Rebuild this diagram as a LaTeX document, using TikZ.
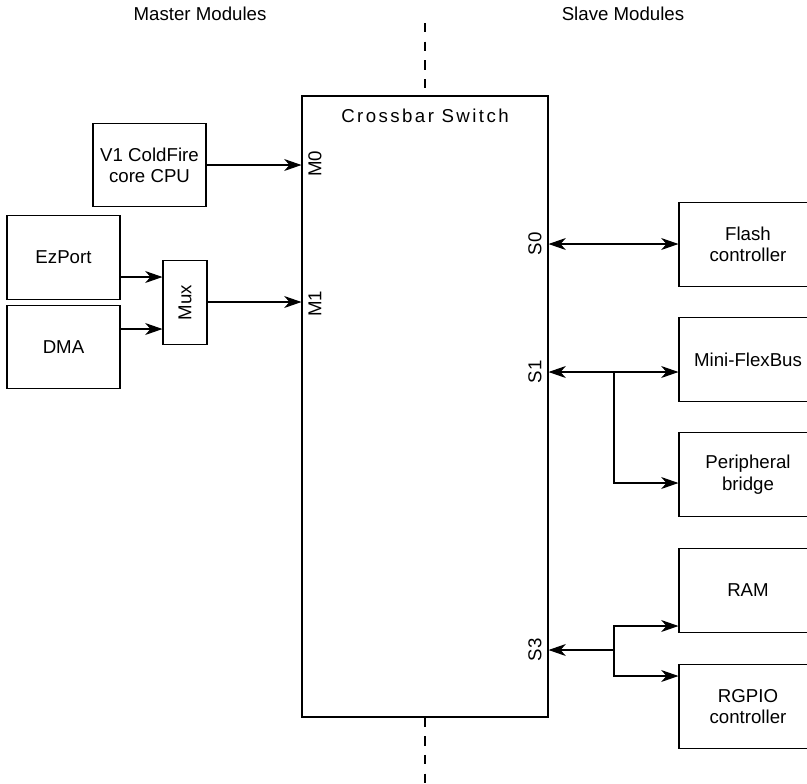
\documentclass[tikz,border=0pt]{standalone}
\usepackage{fontspec}
\setmainfont{Liberation Sans}
\usetikzlibrary{arrows.meta}
\begin{document}
\begin{tikzpicture}[x=0.75pt,y=-0.75pt,
  font=\fontsize{14pt}{16pt}\selectfont,
  line width=0.8pt,
  box/.style={draw,align=center,inner sep=0pt,minimum height=62.5pt},
  arr/.style={-{Stealth[length=13pt,width=9pt,inset=4pt]}},
  darr/.style={{Stealth[length=13pt,width=9pt,inset=4pt]}-{Stealth[length=13pt,width=9pt,inset=4pt]}},
  port/.style={rotate=90,inner sep=0pt},
  divider/.style={dash pattern=on 7pt off 7pt}]
\useasboundingbox (0,0) rectangle (807,783);
\node (mhead) at (200,14) {Master Modules};
\node (shead) at (623,14) {Slave Modules};
\node[draw,minimum width=184.5pt,minimum height=465.75pt] (xbar) at (425,406.5) {};
\node (xtitle) at (425,116) {\addfontfeature{LetterSpace=13}Crossbar Switch};
\coordinate (dtop) at (425,23);
\coordinate (dbot) at (425,790);
\draw[divider] (dtop) -- (xbar.north);
\draw[divider] (xbar.south) -- (dbot);
\node[box,minimum width=84.75pt] (cpu) at (149.5,165) {V1 ColdFire\\core CPU};
\node[box,minimum width=84.75pt] (ezport) at (63.5,257.5) {EzPort};
\node[box,minimum width=84.75pt] (dma) at (63.5,347) {DMA};
\node[box,minimum width=33pt] (mux) at (185,302.5) {\rotatebox{90}{Mux}};
\node[port] (m0) at (315,164) {M0};
\node[port] (m1) at (315,304) {M1};
\node[port] (s0) at (535,244) {S0};
\node[port] (s1) at (535,372) {S1};
\node[port] (s3) at (535,650) {S3};
\node[box,minimum width=103.5pt] (flash) at (748,244.5) {Flash\\controller};
\node[box,minimum width=103.5pt] (mfb) at (748,359.5) {Mini-FlexBus};
\node[box,minimum width=103.5pt] (pbr) at (748,474.5) {Peripheral\\bridge};
\node[box,minimum width=103.5pt] (ram) at (748,590.5) {RAM};
\node[box,minimum width=103.5pt] (rgpio) at (748,706.5) {RGPIO\\controller};
\draw[arr] (cpu.east) -- (cpu.east -| xbar.west);
\draw[arr] (ezport.east |- 0,277) -- (mux.west |- 0,277);
\draw[arr] (dma.east |- 0,329) -- (mux.west |- 0,329);
\draw[arr] (mux.east |- 0,302) -- (xbar.west |- 0,302);
\draw[darr] (xbar.east |- 0,244) -- (flash.west |- 0,244);
\draw[darr] (xbar.east |- 0,372) -- (mfb.west |- 0,372);
\coordinate (s1br) at (614,372);
\coordinate (s3br) at (614,650);
\draw[arr] (s1br) |- (pbr.west |- 0,483);
\draw[arr] (s3br) -- (xbar.east |- s3br);
\draw[arr] (s3br) |- (ram.west |- 0,626);
\draw[arr] (s3br) |- (rgpio.west |- 0,676);
\end{tikzpicture}
\end{document}
